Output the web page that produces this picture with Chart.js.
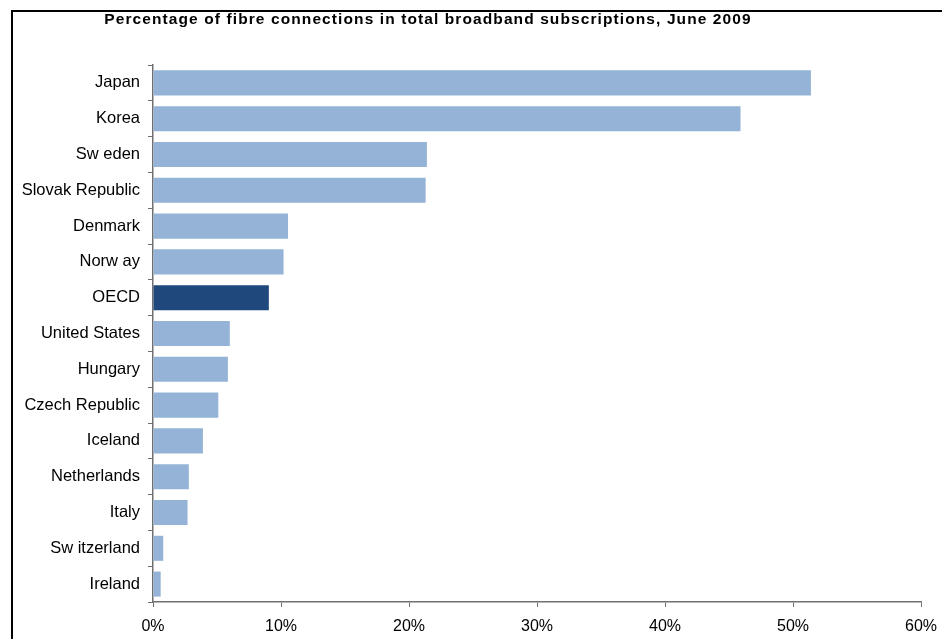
<!DOCTYPE html>
<html>
<head>
<meta charset="utf-8">
<script src="https://cdn.jsdelivr.net/npm/chart.js@4"></script>
<style>
  html, body { margin: 0; padding: 0; background: #fff; }
  #wrap { width: 942px; height: 639px; position: relative; }
</style>
</head>
<body>
<div id="wrap"><canvas id="c" width="942" height="639"></canvas></div>
<script>
const titleText = "Percentage of fibre connections in total broadband subscriptions, June 2009";
const countries = ["Japan", "Korea", "Sw eden", "Slovak Republic", "Denmark", "Norw ay", "OECD",
  "United States", "Hungary", "Czech Republic", "Iceland", "Netherlands", "Italy", "Sw itzerland", "Ireland"];
const fibreShare = [51.4, 45.9, 21.4, 21.3, 10.55, 10.2, 9.05, 6.0, 5.85, 5.1, 3.9, 2.8, 2.7, 0.8, 0.6];
const highlight = "OECD";
const xTicks = [0, 10, 20, 30, 40, 50, 60];

const lightBlue = "#95B3D7";
const darkBlue = "#1F497D";
const barColors = countries.map(c => c === highlight ? darkBlue : lightBlue);

const framePlugin = {
  id: 'frame',
  afterDraw(chart) {
    const ctx = chart.ctx;
    ctx.save();
    ctx.strokeStyle = '#000';
    ctx.lineWidth = 2;
    ctx.beginPath();
    ctx.moveTo(12, 639);
    ctx.lineTo(12, 11);
    ctx.lineTo(942, 11);
    ctx.stroke();
    ctx.fillStyle = '#000';
    ctx.font = 'bold 15.5px "Liberation Sans", Arial, sans-serif';
    if ('letterSpacing' in ctx) ctx.letterSpacing = '1.1px';
    ctx.textAlign = 'center';
    ctx.textBaseline = 'middle';
    ctx.fillText(titleText, 428, 20);
    ctx.restore();
  }
};

new Chart(document.getElementById('c'), {
  type: 'bar',
  data: {
    labels: countries,
    datasets: [{
      data: fibreShare,
      backgroundColor: barColors,
      borderWidth: 0,
      barPercentage: 0.7,
      categoryPercentage: 1.0
    }]
  },
  options: {
    indexAxis: 'y',
    responsive: false,
    animation: false,
    devicePixelRatio: 1,
    layout: { padding: { top: 65, right: 21, left: 0, bottom: 0 } },
    plugins: { legend: { display: false }, title: { display: false }, tooltip: { enabled: false } },
    scales: {
      x: {
        min: 0, max: 60,
        afterBuildTicks(scale) { scale.ticks = xTicks.map(v => ({ value: v })); },
        afterFit(scale) { scale.height = 37; scale.paddingLeft = 0; scale.paddingRight = 0; },
        grid: { drawOnChartArea: false, tickLength: 5, color: '#707070', tickColor: '#707070' },
        border: { color: '#707070', width: 1.5 },
        ticks: {
          padding: 10,
          color: '#000',
          font: { family: '"Liberation Sans", Arial, sans-serif', size: 16 },
          callback: v => v + '%'
        }
      },
      y: {
        afterFit(scale) { scale.width = 153; scale.paddingTop = 0; scale.paddingBottom = 0; },
        grid: { drawOnChartArea: false, tickLength: 5, offset: true, color: '#707070', tickColor: '#707070' },
        border: { color: '#707070', width: 1.5 },
        ticks: {
          padding: 8,
          color: '#000',
          font: { family: '"Liberation Sans", Arial, sans-serif', size: 16.5 }
        }
      }
    }
  },
  plugins: [framePlugin]
});
</script>
</body>
</html>
